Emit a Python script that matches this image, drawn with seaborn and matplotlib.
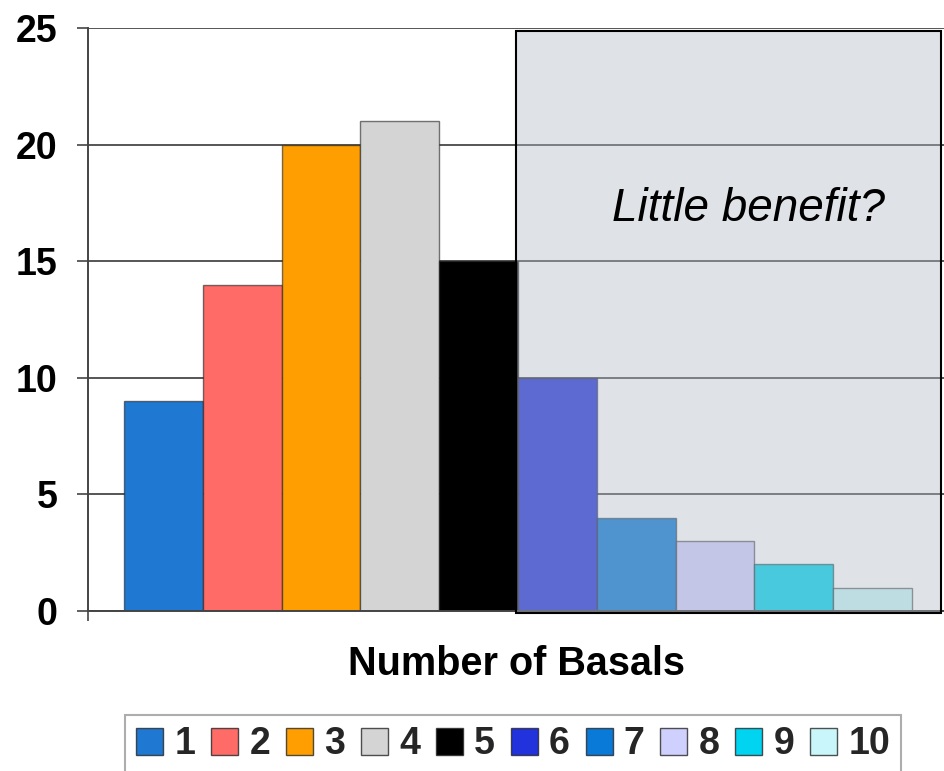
import matplotlib
matplotlib.use("Agg")
import matplotlib.pyplot as plt
from matplotlib.patches import Rectangle, Patch
import seaborn as sns
import pandas as pd

# Number of basals used and how many times each count occurred
basals = ["1", "2", "3", "4", "5", "6", "7", "8", "9", "10"]
counts = [9, 14, 20, 21, 15, 10, 4, 3, 2, 1]
bar_colors = ["#1F78D1", "#FF6B66", "#FF9E00", "#D4D4D4", "#000000",
              "#2233DD", "#0A7AD8", "#D0D0FF", "#00D4F0", "#C8F6FA"]
y_ticks = [0, 5, 10, 15, 20, 25]

# Region of diminishing returns (from 6 basals onward)
shade_start, shade_end = 4.475, 9.868
shade_label = "Little benefit?"

sns.set_theme(style="white")
plt.rcParams["font.family"] = ["Liberation Sans", "DejaVu Sans"]

df = pd.DataFrame({"basals": basals, "count": counts})

fig = plt.figure(figsize=(9.45, 7.71), dpi=100)
ax = fig.add_axes([88 / 945, 160 / 771, 857 / 945, 583 / 771])

sns.barplot(data=df, x="basals", y="count", hue="basals", palette=bar_colors,
            saturation=1, width=1.0, legend=False, ax=ax,
            edgecolor=(0.12, 0.12, 0.12, 0.6), linewidth=1.0, zorder=2)

x_min, x_max = -0.958, 9.918
ax.set_xlim(x_min, x_max)
ax.set_ylim(0, 25)

# horizontal gridlines behind the bars
ax.set_axisbelow(True)
ax.yaxis.grid(True, color="#555555", linewidth=1.4)
ax.xaxis.grid(False)

ax.set_yticks(y_ticks)
ax.set_yticklabels([str(t) for t in y_ticks], fontsize=27, fontweight="bold", color="black")
ax.tick_params(axis="y", direction="out", length=8, width=1.2, color="#444444", pad=14, left=True)
ax.set_xticks([x_min])
ax.set_xticklabels([""])
ax.tick_params(axis="x", direction="out", length=7, width=1.2, color="#444444", bottom=True)

for side in ["top", "right"]:
    ax.spines[side].set_visible(False)
for side in ["left", "bottom"]:
    ax.spines[side].set_color("#444444")
    ax.spines[side].set_linewidth(1.4)

# translucent panel over the tail of the distribution
ax.add_patch(Rectangle((shade_start, -0.08), shade_end - shade_start, 24.96,
                       facecolor=(178 / 255, 186 / 255, 196 / 255, 0.41),
                       edgecolor="black", linewidth=1.5, zorder=3, clip_on=False))
ax.text(7.43, 17.25, shade_label, fontsize=33, fontstyle="italic",
        ha="center", va="center", color="black", zorder=4)

ax.set_xlabel("Number of Basals", fontsize=28.5, fontweight="bold", color="black",
              va="center")
ax.xaxis.set_label_coords(0.5, (611 - 664) / 583)
ax.set_ylabel("")

handles = [Patch(facecolor=c, edgecolor=(0.15, 0.15, 0.15, 0.8), linewidth=1.0)
           for c in bar_colors]
leg = fig.legend(handles, basals, loc="upper left",
                 bbox_to_anchor=(125 / 945, 1 - 715 / 771), ncol=10,
                 prop={"size": 27, "weight": "bold"},
                 handlelength=0.72, handleheight=0.72, handletextpad=0.3,
                 columnspacing=0.42, borderpad=0.3, borderaxespad=0,
                 frameon=True, fancybox=False, shadow=False)
leg.get_frame().set_edgecolor("#999999")
leg.get_frame().set_linewidth(1.5)

fig.savefig("out.png", dpi=100)
